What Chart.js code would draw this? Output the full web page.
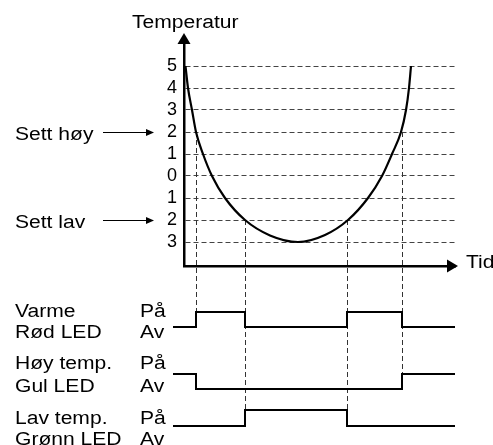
<!DOCTYPE html>
<html><head><meta charset="utf-8">
<script src="https://cdn.jsdelivr.net/npm/chart.js@4.4.1/dist/chart.umd.min.js"></script>
<style>html,body{margin:0;padding:0;background:#fff;}#wrap{width:493px;height:445px;}</style>
</head><body><div id="wrap"><canvas id="c" width="493" height="445"></canvas></div>
<script>
// ---------- data ----------
const tempTicks = [5, 4, 3, 2, 1, 0, -1, -2, -3];
const tempTickLabels = ['5', '4', '3', '2', '1', '0', '1', '2', '3'];
const curveTime = [1.5, 4, 8, 12, 19, 28, 41, 61, 86, 114, 141, 164, 184, 198, 208, 217, 222, 225, 227];
const curveTemp = [5, 4, 3, 2, 1, 0, -1, -2, -2.7, -3, -2.68, -2, -1, 0, 1, 2, 3, 4, 5];
const setHigh = 2;
const setLow = -2;
const intervalStarts = [-11, 12, 61, 163, 218];
const endTime = 271;
const redLed = [0, 1, 0, 1, 0];
const yellowLed = [1, 0, 0, 0, 1];
const greenLed = [0, 0, 1, 0, 0];
const markerTimes = [12, 61, 163, 218];
const markerTemps = [setHigh, setLow, setLow, setHigh];
const signalNames = [['Varme', 'Rød LED'], ['Høy temp.', 'Gul LED'], ['Lav temp.', 'Grønn LED']];
const stateLabels = ['På', 'Av'];
const yTitle = 'Temperatur';
const xTitle = 'Tid';
const setHighLabel = 'Sett høy';
const setLowLabel = 'Sett lav';

// ---------- layout (styling only) ----------
const W = 493, H = 445, L = 184, R = 455, T = 44, B = 266;
const FONT = '18px "Liberation Sans", Arial, sans-serif';
const STRETCH = 1.17;
const rowPx = [[312, 327], [374, 389], [410, 426]]; // [on, off] pixel levels per row
const markerEndRow = [0, 2, 2, 1];
const rowLabelBase = [[317, 338], [369, 392], [424, 445]];

function rowScale(paPx, avPx) {
  const a = avPx - paPx;
  const min = (avPx - B) / a;
  return { type: 'linear', display: false, min: min, max: min + (B - T) / a };
}
function signalPoints(states) {
  const pts = intervalStarts.map((t, i) => ({ x: t, y: states[i] }));
  pts.push({ x: endTime, y: states[states.length - 1] });
  return pts;
}
const signalStyle = { borderColor: '#000', borderWidth: 2, pointRadius: 0, stepped: 'before', clip: false, fill: false };

function sText(ctx, txt, x, y) {
  ctx.save(); ctx.translate(x, y); ctx.scale(STRETCH, 1); ctx.fillText(txt, 0, 0); ctx.restore();
}
function arrowHead(ctx, tipX, tipY, dir, len, half) {
  ctx.beginPath();
  if (dir === 'right') { ctx.moveTo(tipX, tipY); ctx.lineTo(tipX - len, tipY - half); ctx.lineTo(tipX - len, tipY + half); }
  else { ctx.moveTo(tipX, tipY); ctx.lineTo(tipX - half, tipY + len); ctx.lineTo(tipX + half, tipY + len); }
  ctx.closePath(); ctx.fill();
}

const decor = {
  id: 'decor',
  beforeDatasetsDraw(chart) {
    const ctx = chart.ctx, x = chart.scales.x, y = chart.scales.y;
    const rows = [chart.scales.r1, chart.scales.r2, chart.scales.r3];
    ctx.save();
    ctx.strokeStyle = '#333'; ctx.lineWidth = 1; ctx.setLineDash([5, 3]);
    markerTimes.forEach((t, i) => {
      const px = Math.round(x.getPixelForValue(t)) + 0.5;
      ctx.beginPath();
      ctx.moveTo(px, y.getPixelForValue(markerTemps[i]));
      ctx.lineTo(px, rows[markerEndRow[i]].getPixelForValue(0));
      ctx.stroke();
    });
    ctx.restore();
  },
  afterDraw(chart) {
    const ctx = chart.ctx, x = chart.scales.x, y = chart.scales.y;
    const a = chart.chartArea;
    ctx.save();
    ctx.fillStyle = '#000'; ctx.strokeStyle = '#000';
    arrowHead(ctx, a.left, 33, 'up', 11, 6.5);
    ctx.lineWidth = 2.5;
    ctx.beginPath(); ctx.moveTo(a.right - 2, a.bottom); ctx.lineTo(449, a.bottom); ctx.stroke();
    arrowHead(ctx, 458, a.bottom, 'right', 11, 6.5);
    ctx.lineWidth = 1.2;
    [[setHigh, 103], [setLow, 103]].forEach(([v, x0]) => {
      const py = Math.round(y.getPixelForValue(v)) + 0.5;
      ctx.beginPath(); ctx.moveTo(x0, py); ctx.lineTo(147, py); ctx.stroke();
      arrowHead(ctx, 154, py, 'right', 8, 3.5);
    });
    ctx.font = FONT; ctx.textAlign = 'left'; ctx.textBaseline = 'alphabetic';
    sText(ctx, yTitle, 132, 28);
    sText(ctx, xTitle, 466, a.bottom + 2);
    sText(ctx, setHighLabel, 15, y.getPixelForValue(setHigh) + 8);
    sText(ctx, setLowLabel, 15, y.getPixelForValue(setLow) + 8);
    signalNames.forEach((names, i) => {
      sText(ctx, names[0], 15, rowLabelBase[i][0]);
      sText(ctx, names[1], 15, rowLabelBase[i][1]);
      sText(ctx, stateLabels[0], 140, rowLabelBase[i][0]);
      sText(ctx, stateLabels[1], 140, rowLabelBase[i][1]);
    });
    ctx.restore();
  }
};

new Chart(document.getElementById('c'), {
  type: 'line',
  data: {
    datasets: [
      { data: curveTime.map((t, i) => ({ x: t, y: curveTemp[i] })), yAxisID: 'y', borderColor: '#000', borderWidth: 2.2,
        pointRadius: 0, cubicInterpolationMode: 'monotone', fill: false, clip: false },
      Object.assign({ data: signalPoints(redLed), yAxisID: 'r1' }, signalStyle),
      Object.assign({ data: signalPoints(yellowLed), yAxisID: 'r2' }, signalStyle),
      Object.assign({ data: signalPoints(greenLed), yAxisID: 'r3' }, signalStyle)
    ]
  },
  options: {
    responsive: false, animation: false, devicePixelRatio: 1,
    layout: { padding: { top: T, right: W - R, left: 0, bottom: 0 } },
    plugins: { legend: { display: false }, tooltip: { enabled: false }, title: { display: false } },
    scales: {
      x: { type: 'linear', position: 'bottom', min: 0, max: R - L,
        afterFit: (s) => { s.height = H - B; },
        ticks: { display: false }, grid: { display: false, drawTicks: false },
        border: { display: true, color: '#000', width: 2.5 } },
      y: { type: 'linear', position: 'left', min: -3 - (B - 242) / 22, max: 5 + (66 - T) / 22,
        afterBuildTicks: (s) => { s.ticks = tempTicks.map(v => ({ value: v })); },
        afterFit: (s) => { s.width = L; },
        ticks: { autoSkip: false, padding: 7, color: '#000', font: { family: '"Liberation Sans", Arial, sans-serif', size: 18 },
          callback: (v, i) => tempTickLabels[i] },
        grid: { color: '#444', lineWidth: 1, drawTicks: false },
        border: { display: true, color: '#000', width: 2.5, dash: [5, 3] } },
      r1: Object.assign(rowScale(rowPx[0][0], rowPx[0][1]), { position: 'right' }),
      r2: Object.assign(rowScale(rowPx[1][0], rowPx[1][1]), { position: 'right' }),
      r3: Object.assign(rowScale(rowPx[2][0], rowPx[2][1]), { position: 'right' })
    }
  },
  plugins: [decor]
});
</script></body></html>
